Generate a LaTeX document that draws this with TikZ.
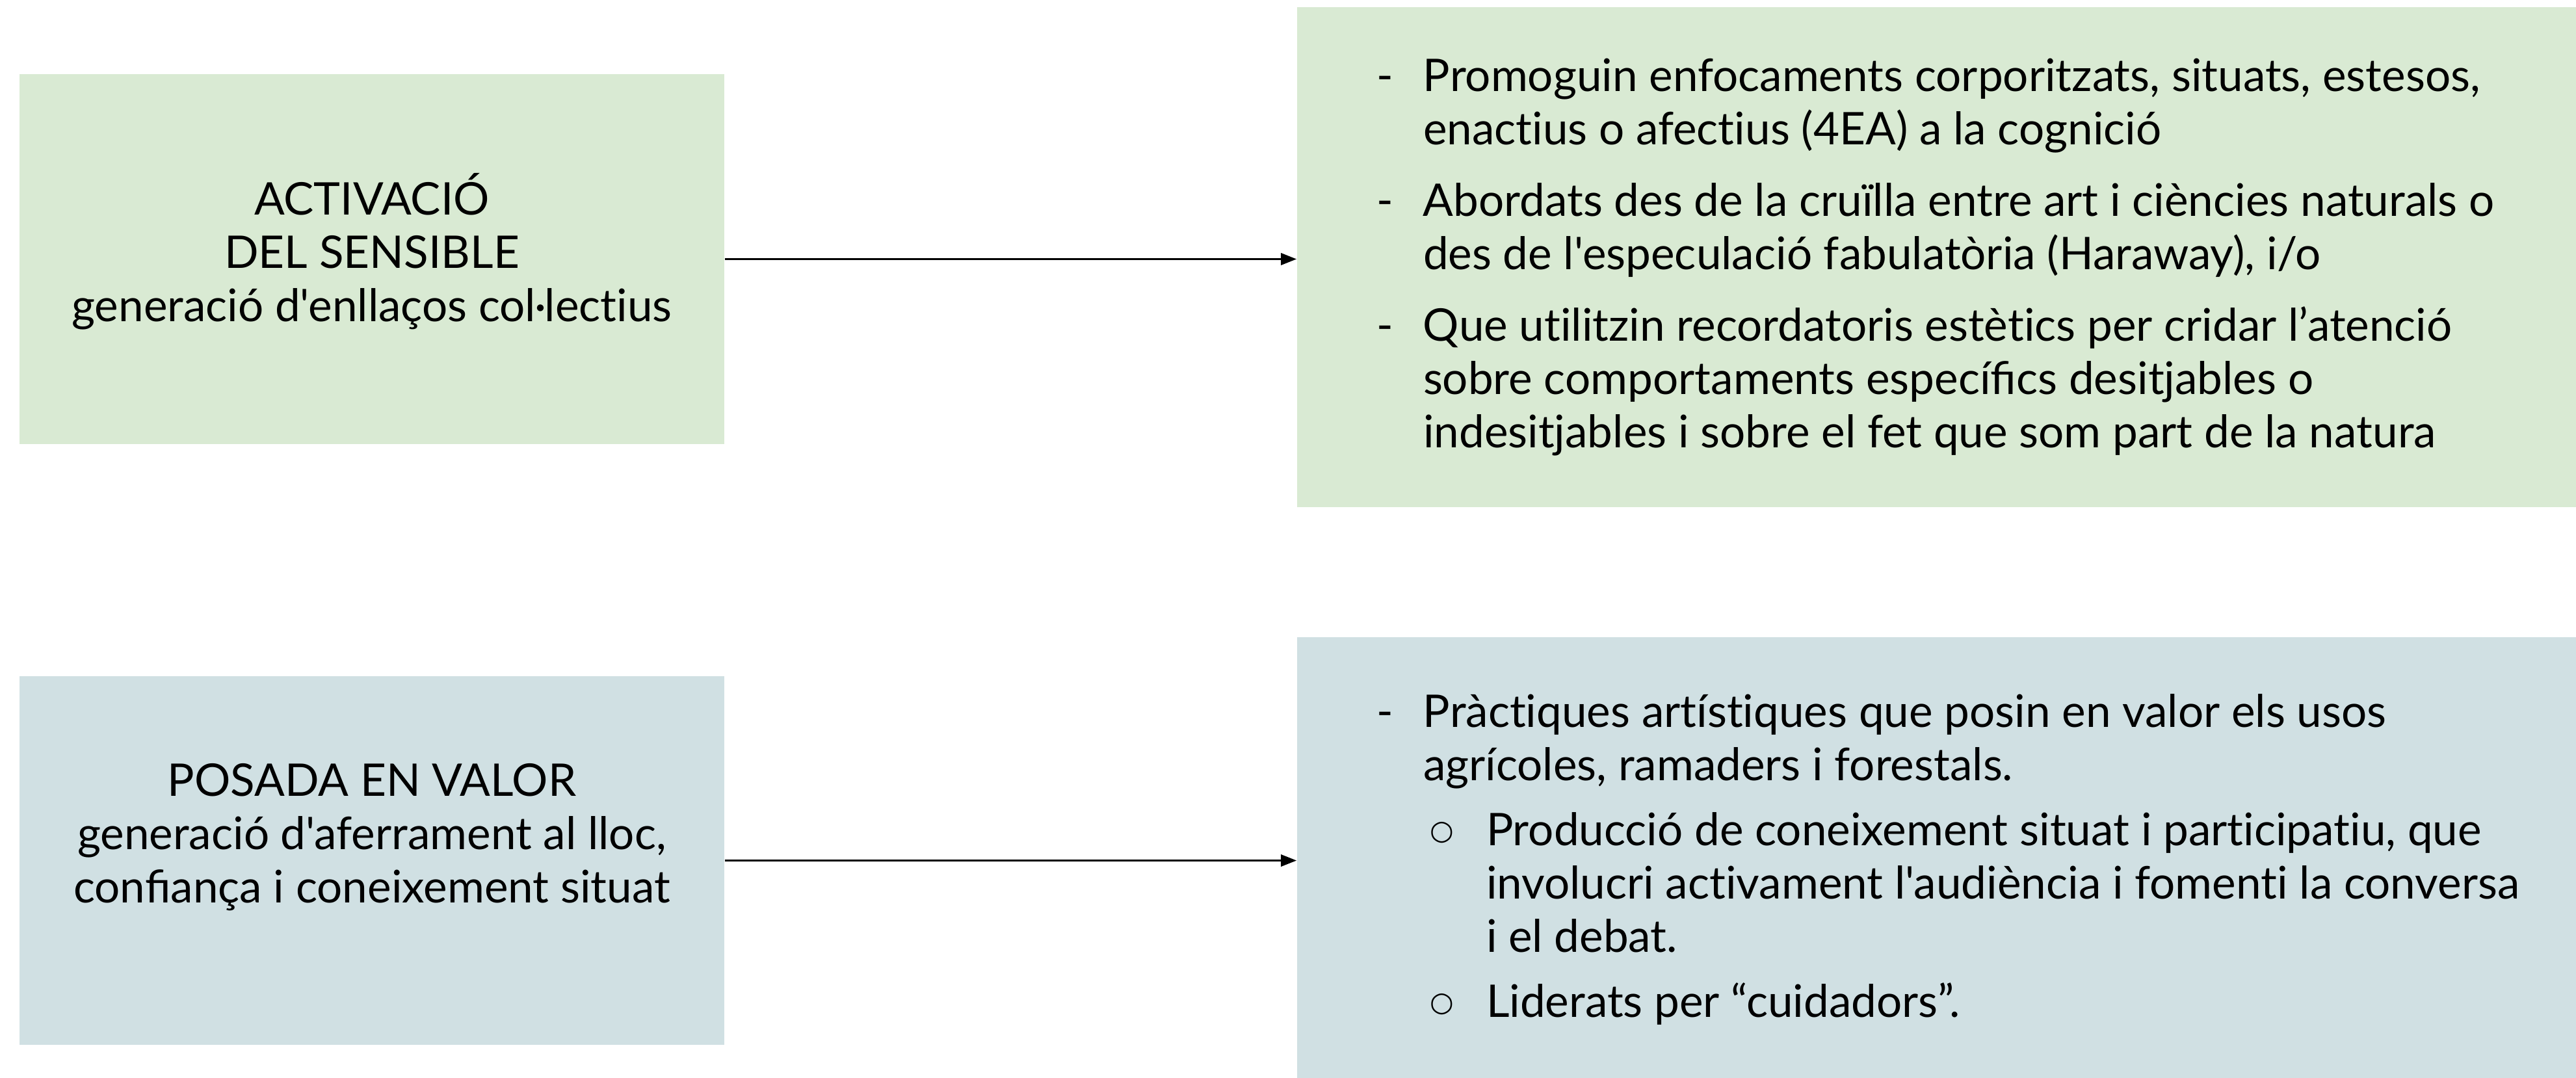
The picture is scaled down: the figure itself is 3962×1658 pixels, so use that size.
\documentclass[tikz,border=0pt]{standalone}
\usepackage{fontspec}
\setmainfont{Lato}[Ligatures={TeXOff,NoCommon}]
\newfontfamily\symfont{DejaVu Sans}
\usetikzlibrary{arrows.meta}
\definecolor{boxgreen}{HTML}{D9EAD3}
\definecolor{boxblue}{HTML}{D0E0E3}
\newcommand{\dashitem}{\makebox[18pt][l]{-}}
\newcommand{\dashcont}{\hspace*{18pt}}
\newcommand{\circitem}{\hspace*{20.5pt}\makebox[21.75pt][l]{\raisebox{2.3pt}{\symfont\fontsize{10.5}{10.5}\selectfont ○}}}
\newcommand{\circcont}{\hspace*{42.25pt}}

\begin{document}
\begin{tikzpicture}[x=0.25pt,y=0.25pt,
  box/.style={inner sep=0pt, minimum width=271pt},
  wide/.style={inner sep=0pt, minimum width=491.75pt},
  txt/.style={inner sep=0pt, font=\fontsize{17.3}{20.5}\selectfont},
  arr/.style={-{Triangle[length=6pt,width=4.5pt]}, line width=0.8pt}]
\useasboundingbox (0,0) rectangle (3962,-1658);
% boxes
\node[box, fill=boxgreen, minimum height=142.25pt] (act) at (572,-398.5) {};
\node[wide, fill=boxgreen, minimum height=192.25pt] (sens) at (2978.5,-395.5) {};
\node[box, fill=boxblue, minimum height=141.75pt] (val) at (572,-1323.5) {};
\node[wide, fill=boxblue, minimum height=169.5pt] (agr) at (2978.5,-1319) {};
% texts
\node[txt, align=center] (acttxt) at ([yshift=3pt]act.center) {ACTIVACIÓ\\DEL SENSIBLE\\generació d'enllaços col·lectius};
\node[txt, align=center] (valtxt) at ([yshift=9pt]val.center) {POSADA EN VALOR\\generació d'aferrament al lloc,\\conﬁança i coneixement situat};
\node[txt, align=left, anchor=west] (senstxt) at ([xshift=30.5pt]sens.west) {%
\dashitem Promoguin enfocaments corporitzats, situats, estesos,\\
\dashcont enactius o afectius (4EA) a la cognició\\[7pt]
\dashitem Abordats des de la cruïlla entre art i ciències naturals o\\
\dashcont des de l'especulació fabulatòria (Haraway), i/o\\[7pt]
\dashitem Que utilitzin recordatoris estètics per cridar l’atenció\\
\dashcont sobre comportaments especíﬁcs desitjables o\\
\dashcont indesitjables i sobre el fet que som part de la natura};
\node[txt, align=left, anchor=west] (agrtxt) at ([xshift=30.5pt,yshift=-0.75pt]agr.west) {%
\dashitem Pràctiques artístiques que posin en valor els usos\\
\dashcont agrícoles, ramaders i forestals.\\[4.5pt]
\circitem Producció de coneixement situat i participatiu, que\\
\circcont involucri activament l'audiència i fomenti la conversa\\
\circcont i el debat.\\[4.5pt]
\circitem Liderats per “cuidadors”.};
% arrows
\draw[arr] (act.east) -- (act.east -| sens.west);
\draw[arr] (val.east) -- (val.east -| agr.west);
\end{tikzpicture}
\end{document}
